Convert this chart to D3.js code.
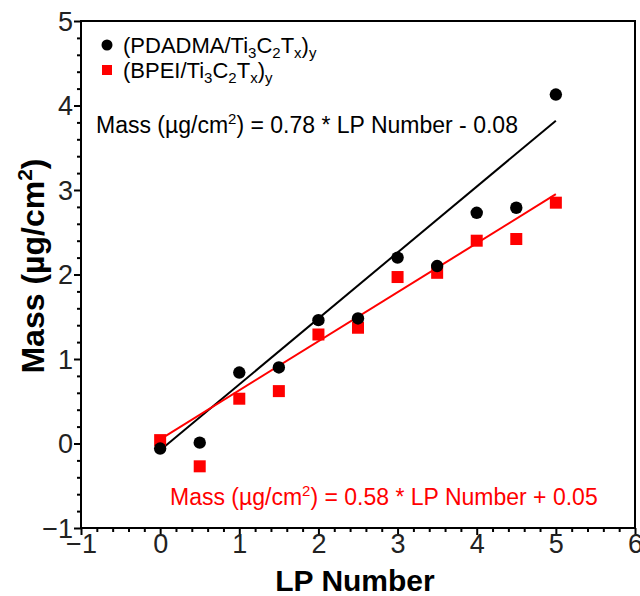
<!DOCTYPE html>
<html>
<head>
<meta charset="utf-8">
<script src="https://cdn.jsdelivr.net/npm/d3@7"></script>
<style>
  html, body { margin: 0; padding: 0; background: #fff; }
  text { font-family: "Liberation Sans", Arial, sans-serif; }
</style>
</head>
<body>
<svg id="chart" width="640" height="596"></svg>
<script>
// ---- data ----
const lpNumbers = [0, 0.5, 1, 1.5, 2, 2.5, 3, 3.5, 4, 4.5, 5];
const pdadmaMass = [-0.06, 0.01, 0.84, 0.90, 1.46, 1.48, 2.20, 2.10, 2.73, 2.79, 4.13];
const bpeiMass   = [0.04, -0.27, 0.53, 0.62, 1.29, 1.37, 1.97, 2.02, 2.40, 2.42, 2.85];
const fitSlopes = [0.78, 0.58];
const fitIntercepts = [-0.08, 0.05];
const fitRange = [0, 5];
const xTicks = [-1, 0, 1, 2, 3, 4, 5, 6];
const yTicks = [-1, 0, 1, 2, 3, 4, 5];

const svg = d3.select("#chart");
const x = d3.scaleLinear().domain([-1, 6]).range([81, 635]);
const y = d3.scaleLinear().domain([-1, 5]).range([528, 21]);

// minor ticks
const xMinor = d3.range(-1, 6.001, 0.2).filter(v => Math.abs(v - Math.round(v)) > 1e-6);
const yMinor = d3.range(-1, 5.001, 0.2).filter(v => Math.abs(v - Math.round(v)) > 1e-6);

const xAxisG = svg.append("g").attr("transform", "translate(0,528)")
  .call(d3.axisBottom(x).tickValues(xTicks).tickFormat(d3.format("d")).tickSize(7).tickSizeOuter(0));
svg.append("g").attr("transform", "translate(0,528)")
  .call(d3.axisBottom(x).tickValues(xMinor).tickFormat("").tickSize(4).tickSizeOuter(0))
  .call(g => g.select(".domain").remove());
const yAxisG = svg.append("g").attr("transform", "translate(81,0)")
  .call(d3.axisLeft(y).tickValues(yTicks).tickFormat(d3.format("d")).tickSize(7).tickSizeOuter(0));
svg.append("g").attr("transform", "translate(81,0)")
  .call(d3.axisLeft(y).tickValues(yMinor).tickFormat("").tickSize(4).tickSizeOuter(0))
  .call(g => g.select(".domain").remove());

svg.selectAll(".tick line").attr("stroke", "#000").attr("stroke-width", 2);
svg.selectAll(".domain").attr("stroke", "none");
xAxisG.selectAll(".tick text").attr("font-size", 27).attr("fill", "#222")
  .attr("font-family", "Liberation Sans, Arial, sans-serif").attr("dy", "0.72em").attr("y", 6);
yAxisG.selectAll(".tick text").attr("font-size", 27).attr("fill", "#222")
  .attr("font-family", "Liberation Sans, Arial, sans-serif").attr("x", -8).attr("dy", "0.34em");

// frame
svg.append("rect").attr("x", x(-1)).attr("y", y(5))
  .attr("width", x(6) - x(-1)).attr("height", y(-1) - y(5))
  .attr("fill", "none").attr("stroke", "#000").attr("stroke-width", 2);

// fit lines
const colors = ["#000000", "#ff0000"];
fitSlopes.forEach((m, i) => {
  svg.append("line")
    .attr("x1", x(fitRange[0])).attr("y1", y(m * fitRange[0] + fitIntercepts[i]))
    .attr("x2", x(fitRange[1])).attr("y2", y(m * fitRange[1] + fitIntercepts[i]))
    .attr("stroke", colors[i]).attr("stroke-width", 2);
});

// points
svg.append("g").selectAll("rect").data(lpNumbers).join("rect")
  .attr("x", (d, i) => x(d) - 6).attr("y", (d, i) => y(bpeiMass[i]) - 6)
  .attr("width", 12).attr("height", 12).attr("fill", "#ff0000");
svg.append("g").selectAll("circle").data(lpNumbers).join("circle")
  .attr("cx", d => x(d)).attr("cy", (d, i) => y(pdadmaMass[i]))
  .attr("r", 6.2).attr("fill", "#000");

// legend
const leg = svg.append("g");
leg.append("circle").attr("cx", 107).attr("cy", 45).attr("r", 5.5).attr("fill", "#000");
leg.append("rect").attr("x", 102).attr("y", 65).attr("width", 10).attr("height", 10).attr("fill", "#ff0000");
function chemLabel(g, xPos, yPos, poly) {
  const t = g.append("text").attr("x", xPos).attr("y", yPos).attr("font-size", 22).attr("fill", "#000");
  t.append("tspan").text("(" + poly + "/Ti");
  t.append("tspan").text("3").attr("font-size", 15).attr("dy", 5);
  t.append("tspan").text("C").attr("dy", -5);
  t.append("tspan").text("2").attr("font-size", 15).attr("dy", 5);
  t.append("tspan").text("T").attr("dy", -5);
  t.append("tspan").text("x").attr("font-size", 15).attr("dy", 5);
  t.append("tspan").text(")").attr("dy", -5);
  t.append("tspan").text("y").attr("font-size", 15).attr("dy", 5);
}
chemLabel(leg, 123, 53, "PDADMA");
chemLabel(leg, 123, 78, "BPEI");

// equations
function eqLabel(xPos, yPos, color, rest) {
  const t = svg.append("text").attr("x", xPos).attr("y", yPos).attr("font-size", 23).attr("fill", color);
  t.append("tspan").text("Mass (µg/cm");
  t.append("tspan").text("2").attr("font-size", 15).attr("dy", -9);
  t.append("tspan").text(") = " + rest).attr("dy", 9);
}
eqLabel(96, 133, "#000", "0.78 * LP Number - 0.08");
eqLabel(170, 505, "#ff0000", "0.58 * LP Number + 0.05");

// axis titles
svg.append("text").attr("x", 355).attr("y", 591).attr("text-anchor", "middle")
  .attr("font-size", 30).attr("font-weight", "bold").attr("fill", "#000").text("LP Number");
const yt = svg.append("text").attr("transform", "translate(44,266) rotate(-90)")
  .attr("text-anchor", "middle").attr("font-size", 32).attr("font-weight", "bold").attr("fill", "#000");
yt.append("tspan").text("Mass (µg/cm");
yt.append("tspan").text("2").attr("font-size", 21).attr("dy", -12);
yt.append("tspan").text(")").attr("dy", 12);
</script>
</body>
</html>
